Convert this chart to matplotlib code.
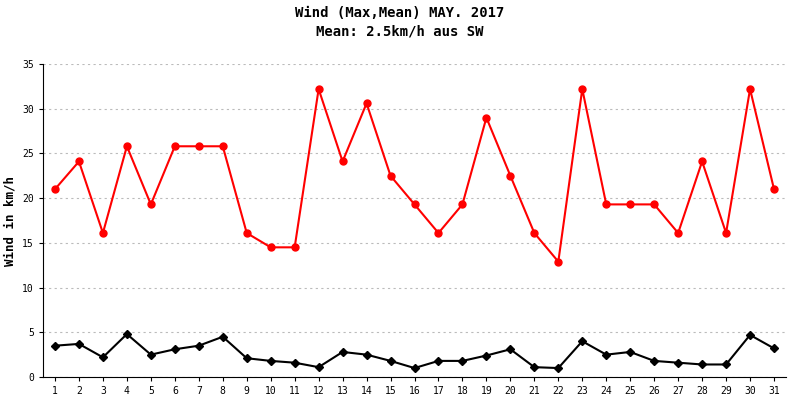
import matplotlib
matplotlib.use("Agg")
import matplotlib.pyplot as plt

days = list(range(1, 32))
wind_max = [21.0,24.1,16.1,25.8,19.3,25.8,25.8,25.8,16.1,14.5,14.5,32.2,24.1,30.6,22.5,19.3,16.1,19.3,29.0,22.5,16.1,12.9,32.2,19.3,19.3,19.3,16.1,24.1,16.1,32.2,21.0]
wind_mean = [3.5,3.7,2.2,4.8,2.5,3.1,3.5,4.5,2.1,1.8,1.6,1.1,2.8,2.5,1.8,1.0,1.8,1.8,2.4,3.1,1.1,1.0,4.0,2.5,2.8,1.8,1.6,1.4,1.4,4.7,3.2]

plt.rcParams['font.family'] = ['DejaVu Sans Mono']
fig = plt.figure(figsize=(8, 4), dpi=100)
ax = fig.add_axes([43/800, 23/400, 743/800, 313/400])
ax.plot(days, wind_max, color='#ff0000', marker='o', markersize=5, linewidth=1.5)
ax.plot(days, wind_mean, color='#000000', marker='D', markersize=4, linewidth=1.5)
ax.set_xlim(0.5, 31.5)
ax.set_ylim(0, 35)
ax.set_xticks(days)
ax.set_yticks(range(0, 36, 5))
ax.tick_params(labelsize=7, length=3)
ax.grid(axis='y', linestyle=(0, (2, 3)), color='#bbbbbb', linewidth=0.8)
ax.set_ylabel('Wind in km/h', fontsize=9, fontweight='bold')
for s in ['top', 'right']:
    ax.spines[s].set_visible(False)
fig.text(0.5, 0.985, 'Wind (Max,Mean) MAY. 2017\nMean: 2.5km/h aus SW', ha='center', va='top',
         fontsize=10, fontweight='bold', linespacing=1.4)
fig.savefig('out.png', dpi=100)
